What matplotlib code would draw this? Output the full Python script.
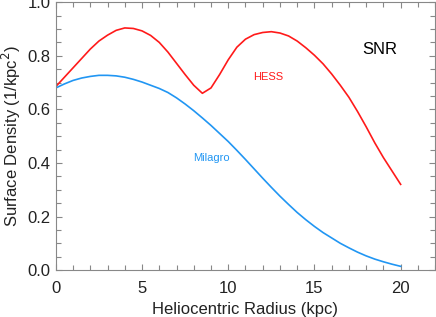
import matplotlib
matplotlib.use("Agg")
import matplotlib.pyplot as plt
from matplotlib.ticker import MultipleLocator

plt.rcParams['font.family'] = ['Liberation Sans', 'DejaVu Sans']

radius = [0, 0.5, 1, 1.5, 2, 2.5, 3, 3.5, 4, 4.5, 5, 5.5, 6, 6.5, 7, 7.5, 8, 8.5, 9, 9.5,
          10, 10.5, 11, 11.5, 12, 12.5, 13, 13.5, 14, 14.5, 15, 15.5, 16, 16.5, 17, 17.5,
          18, 18.5, 19, 19.5, 20]
hess = [0.685, 0.72, 0.755, 0.79, 0.825, 0.855, 0.877, 0.895, 0.904, 0.902, 0.893, 0.876,
        0.85, 0.814, 0.772, 0.73, 0.69, 0.66, 0.68, 0.73, 0.785, 0.832, 0.862, 0.879,
        0.887, 0.89, 0.885, 0.874, 0.855, 0.83, 0.802, 0.77, 0.732, 0.69, 0.645, 0.592,
        0.535, 0.475, 0.42, 0.37, 0.32]
milagro = [0.68, 0.695, 0.708, 0.717, 0.723, 0.727, 0.727, 0.725, 0.72, 0.712, 0.702, 0.69,
           0.678, 0.663, 0.643, 0.62, 0.595, 0.568, 0.54, 0.51, 0.48, 0.447, 0.413, 0.378,
           0.343, 0.309, 0.276, 0.245, 0.215, 0.188, 0.163, 0.14, 0.12, 0.1, 0.083, 0.067,
           0.053, 0.041, 0.031, 0.022, 0.014]

fig = plt.figure(figsize=(4.36, 3.17), dpi=100)
ax = fig.add_axes([0.128, 0.148, 0.870, 0.845])

ax.plot(radius, hess, color='#ff1a1a', lw=1.2)
ax.plot(radius, milagro, color='#2196f3', lw=1.2)

ax.text(12.3, 0.72, 'HESS', color='#ff1a1a', fontsize=8, ha='center', va='center')
ax.text(9.0, 0.42, 'Milagro', color='#2196f3', fontsize=8, ha='center', va='center')
ax.text(18.8, 0.825, 'SNR', color='black', fontsize=12, ha='center', va='center')

ax.set_xlim(0, 22)
ax.set_ylim(0, 1.0)
ax.xaxis.set_major_locator(MultipleLocator(5))
ax.xaxis.set_minor_locator(MultipleLocator(1))
ax.yaxis.set_major_locator(MultipleLocator(0.2))
ax.yaxis.set_minor_locator(MultipleLocator(0.05))
ax.yaxis.set_major_formatter(plt.FormatStrFormatter('%.1f'))

ax.tick_params(which='both', direction='in', top=True, right=True,
               color='#888888', labelsize=12, labelcolor='#222222', width=0.8)
ax.tick_params(which='major', length=4)
ax.tick_params(which='minor', length=3.5)
ax.tick_params(axis='x', which='major', pad=8)
ax.tick_params(axis='y', which='major', pad=4)
for s in ax.spines.values():
    s.set_color('#888888')
    s.set_linewidth(0.8)

ax.set_xlabel('Heliocentric Radius (kpc)', fontsize=12, color='#222222', labelpad=4)
ax.set_ylabel('Surface Density (1/kpc$^2$)', fontsize=12, color='#222222', labelpad=3)

fig.savefig('out.png', dpi=100)
